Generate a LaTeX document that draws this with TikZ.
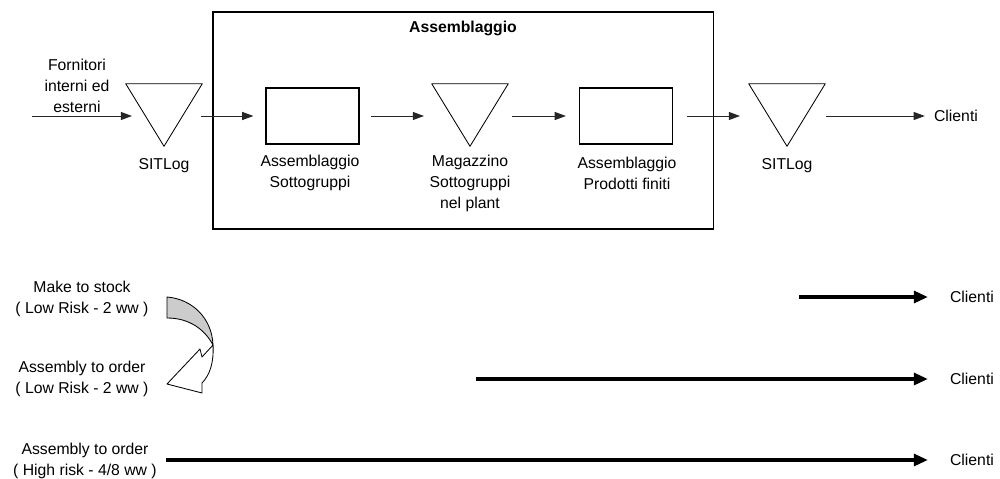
\documentclass[tikz,border=0pt]{standalone}
\usepackage{fontspec}
\setmainfont{Liberation Sans}
\usetikzlibrary{arrows.meta}

\begin{document}
\begin{tikzpicture}[x=0.025cm,y=-0.025cm,
  font=\fontsize{11.2}{14.9}\selectfont,
  proc/.style={draw, line width=0.8pt, minimum width=2.325cm, minimum height=1.4cm, inner sep=0},
  lager/.style={minimum width=1.9cm, minimum height=1.55cm, inner sep=0},
  lbl/.style={align=center, inner sep=0},
  flow/.style={-{Triangle[length=0.28cm,width=0.2cm]}, line width=0.7pt, draw=black!85},
  mode/.style={-{Triangle[length=0.35cm,width=0.3cm]}, line width=2.2pt}
]
\useasboundingbox (0,0) rectangle (1000,479);

% Assemblaggio
\node[draw, line width=0.8pt, minimum width=12.5cm, minimum height=5.425cm, inner sep=0] (plant) at (463,120.5) {};
\node[lbl, font=\fontsize{11.2}{14.9}\selectfont\bfseries] (titel) at (463,28) {Assemblaggio};

\node[lager] (sit1) at (164,115) {};
\node[proc] (asot) at (312.5,116) {};
\node[lager] (mag) at (470,115) {};
\node[proc] (apf) at (626,116) {};
\node[lager] (sit2) at (787,115) {};
\foreach \n in {sit1,mag,sit2}
  \draw[line width=0.6pt, line join=round] (\n.north west) -- (\n.north east) -- (\n.south) -- cycle;

\node[lbl] (forn) at (77,86) {Fornitori\\interni ed\\esterni};
\node[lbl] (sit1t) at (164,166) {SITLog};
\node[lbl] (asott) at (310,172.5) {Assemblaggio\\Sottogruppi};
\node[lbl] (magt) at (470,183.5) {Magazzino\\Sottogruppi\\nel plant};
\node[lbl] (apft) at (627,173) {Assemblaggio\\Prodotti finiti};
\node[lbl] (sit2t) at (787,166) {SITLog};
\node[lbl] (cli) at (956,116) {Clienti};

\coordinate (ein) at (32,116);
\draw[flow] (ein) -- ([xshift=-0.8cm]sit1.center |- ein);
\draw[flow] ([xshift=0.925cm]sit1.center |- ein) -- ([xshift=-0.3cm]asot.west);
\draw[flow] ([xshift=0.275cm]asot.east) -- ([xshift=-1.15cm]mag.center |- ein);
\draw[flow] ([xshift=1.05cm]mag.center |- ein) -- ([xshift=-0.325cm]apf.west);
\draw[flow] ([xshift=0.35cm]apf.east) -- ([xshift=-1.175cm]sit2.center |- ein);
\draw[flow] ([xshift=0.975cm]sit2.center |- ein) -- ([xshift=-0.225cm]cli.west);

% Strategie
\node[lbl] (mts) at (82,298.5) {Make to stock\\( Low Risk - 2 ww )};
\node[lbl] (atol) at (82,379) {Assembly to order\\( Low Risk - 2 ww )};
\node[lbl] (atoh) at (85,461) {Assembly to order\\( High risk - 4/8 ww )};

\node[lbl] (cli1) at (972,297) {Clienti};
\node[lbl] (cli2) at (972,379) {Clienti};
\node[lbl] (cli3) at (972,460) {Clienti};

\coordinate (s1) at (799,297);
\coordinate (s2) at (476,379);
\coordinate (s3) at (166,460);
\draw[mode] (s1) -- ([xshift=-0.55cm]cli1.west);
\draw[mode] (s2) -- ([xshift=-0.55cm]cli2.west);
\draw[mode] (s3) -- ([xshift=-0.55cm]cli3.west);

% gebogener Pfeil
\draw[line width=0.6pt, fill=black!20] (167,297) .. controls (192,299) and (212,318) .. (213,345)
  .. controls (205,330) and (190,318) .. (167,318) -- cycle;
\draw[line width=0.6pt, fill=white, line join=round] (213,345) -- (202,357) -- (200,349) -- (167,384)
  -- (202,393) -- (202,383) .. controls (210,375) and (214,362) .. (213,345) -- cycle;
\end{tikzpicture}
\end{document}
